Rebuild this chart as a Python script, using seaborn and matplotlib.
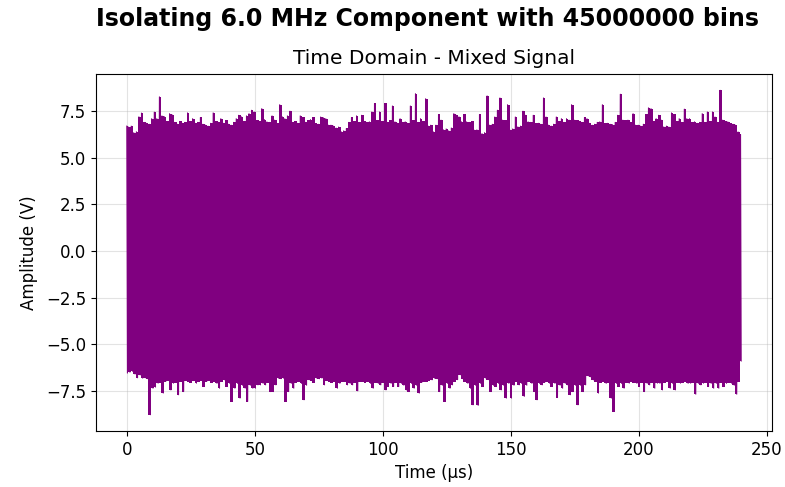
import numpy as np
import pandas as pd
import matplotlib
matplotlib.use("Agg")
import matplotlib.pyplot as plt
import seaborn as sns

# Envelope of the mixed signal at 1 µs steps (0..240 µs)
time_us = list(range(0, 241))
upper_peak = [
    6.70, 6.65, 6.70, 6.35, 6.40, 7.20, 7.40, 6.90, 6.85, 6.80,
    7.10, 7.45, 7.10, 8.27, 7.25, 7.20, 6.95, 7.37, 7.30, 6.90,
    6.80, 6.95, 6.85, 6.90, 7.41, 6.95, 7.10, 6.85, 6.90, 7.16,
    6.80, 6.75, 6.70, 6.85, 7.41, 6.95, 6.90, 7.10, 6.85, 7.00,
    6.80, 6.75, 6.90, 7.10, 7.28, 7.20, 6.95, 7.25, 7.37, 7.55,
    7.46, 7.00, 6.95, 7.64, 7.05, 6.93, 6.90, 7.25, 7.02, 6.84,
    7.85, 7.20, 7.10, 7.25, 7.50, 6.90, 6.95, 6.85, 7.25, 7.16,
    6.90, 7.00, 7.05, 7.16, 6.84, 6.80, 7.19, 7.15, 7.10, 6.75,
    6.75, 6.70, 6.60, 6.65, 6.40, 6.45, 6.57, 6.90, 7.16, 6.95,
    7.25, 6.90, 7.28, 6.95, 6.90, 6.93, 7.46, 7.91, 7.00, 7.46,
    6.95, 7.91, 6.90, 7.00, 7.78, 6.93, 6.85, 7.10, 6.90, 6.93,
    6.85, 7.78, 7.00, 8.44, 6.90, 7.10, 6.95, 8.17, 6.70, 6.75,
    6.39, 6.75, 7.32, 7.02, 6.50, 6.55, 6.45, 6.60, 7.37, 7.28,
    7.20, 6.93, 7.32, 6.93, 6.90, 6.95, 6.48, 6.50, 7.32, 6.30,
    6.35, 8.32, 6.75, 6.80, 7.19, 7.55, 8.21, 7.02, 7.00, 7.85,
    6.48, 6.55, 7.19, 6.66, 6.70, 7.50, 7.28, 6.93, 6.90, 7.28,
    6.84, 6.85, 6.80, 8.21, 7.19, 6.75, 6.70, 6.80, 7.19, 6.95,
    7.10, 6.90, 7.10, 7.02, 7.85, 7.02, 7.00, 6.95, 6.90, 7.16,
    7.10, 6.85, 6.75, 6.80, 6.90, 6.93, 7.85, 6.84, 6.85, 6.80,
    6.78, 6.90, 7.28, 8.41, 7.02, 7.00, 7.02, 6.90, 7.37, 6.75,
    6.75, 6.70, 6.80, 7.32, 7.68, 7.64, 6.95, 7.10, 7.28, 7.02,
    6.66, 6.70, 6.65, 7.41, 7.32, 6.95, 7.10, 6.90, 7.61, 7.10,
    7.10, 6.90, 6.93, 6.85, 6.90, 7.37, 6.90, 7.46, 6.95, 7.46,
    7.19, 6.90, 8.62, 7.02, 6.95, 6.93, 6.84, 6.80, 6.75, 6.39,
    6.25,
]
lower_peak = [
    -6.55, -6.50, -6.45, -6.60, -6.80, -6.65, -6.82, -6.80, -6.85, -8.78,
    -7.36, -7.30, -7.09, -7.05, -7.62, -7.00, -6.95, -7.45, -7.09, -7.05,
    -7.71, -7.00, -7.54, -6.95, -7.00, -7.05, -6.95, -7.09, -7.00, -6.95,
    -7.27, -7.00, -6.95, -7.05, -7.00, -7.10, -7.36, -7.00, -6.91, -7.27,
    -7.10, -8.07, -7.36, -7.10, -7.89, -7.20, -7.36, -8.07, -7.20, -7.36,
    -7.36, -7.18, -7.18, -7.10, -7.18, -7.05, -7.54, -7.54, -7.18, -6.82,
    -6.85, -6.82, -8.07, -7.54, -7.10, -7.36, -7.05, -7.00, -7.10, -7.98,
    -7.20, -6.91, -6.95, -7.05, -6.82, -6.85, -6.82, -7.18, -6.95, -7.00,
    -7.05, -7.00, -7.36, -7.10, -7.00, -7.00, -7.18, -7.10, -7.18, -7.05,
    -7.50, -7.00, -7.00, -7.05, -7.00, -7.10, -7.36, -7.05, -7.10, -7.18,
    -7.05, -7.45, -7.27, -7.10, -7.27, -7.05, -7.27, -7.10, -7.20, -7.45,
    -7.54, -7.10, -7.36, -7.20, -7.62, -7.05, -7.00, -7.00, -6.95, -6.91,
    -6.82, -6.85, -7.54, -7.20, -8.07, -7.10, -7.36, -7.18, -7.00, -6.90,
    -6.64, -6.85, -7.00, -7.10, -7.36, -8.25, -7.20, -8.28, -7.10, -7.27,
    -6.82, -6.90, -7.54, -7.20, -7.27, -7.10, -7.45, -7.20, -7.89, -7.10,
    -7.89, -7.20, -7.00, -7.18, -7.10, -7.80, -7.20, -7.00, -7.10, -7.54,
    -7.98, -7.10, -7.18, -7.05, -7.00, -7.10, -7.27, -7.10, -7.86, -7.20,
    -7.36, -7.10, -7.18, -7.71, -7.54, -7.20, -8.25, -7.20, -7.54, -7.18,
    -6.70, -6.75, -6.91, -7.00, -7.62, -7.05, -7.00, -7.10, -7.05, -7.89,
    -8.61, -7.10, -7.27, -7.10, -7.36, -7.05, -7.09, -7.00, -7.05, -7.10,
    -7.27, -7.05, -7.54, -7.10, -7.18, -7.05, -7.36, -7.09, -7.10, -7.45,
    -7.05, -7.00, -7.36, -7.10, -7.45, -7.05, -7.09, -7.05, -7.00, -7.10,
    -7.09, -7.05, -7.68, -7.10, -7.18, -7.09, -7.05, -7.27, -7.10, -7.36,
    -7.10, -7.36, -7.05, -7.27, -7.10, -7.05, -7.09, -7.20, -7.68, -7.00,
    -5.90,
]

suptitle_text = "Isolating 6.0 MHz Component with 45000000 bins"
title_text = "Time Domain - Mixed Signal"
xlabel_text = "Time (μs)"
ylabel_text = "Amplitude (V)"
x_ticks = [0, 50, 100, 150, 200, 250]
y_ticks = [-7.5, -5.0, -2.5, 0.0, 2.5, 5.0, 7.5]

color = "#800080"

# Signal trace: alternate between the read upper and lower peaks
t_arr = np.array(time_us, dtype=float)
up = np.array(upper_peak)
lo = np.array(lower_peak)
trace_t = np.empty(2 * len(t_arr))
trace_v = np.empty(2 * len(t_arr))
trace_t[0::2] = t_arr - 0.25
trace_t[1::2] = t_arr + 0.25
trace_v[0::2] = up
trace_v[1::2] = lo
trace_t[0] = 0.0
trace_t[-1] = 240.0
df = pd.DataFrame({"t": trace_t, "v": trace_v})

fig = plt.figure(figsize=(7.85, 4.87), dpi=100)
ax = fig.add_axes([0.1223, 0.115, 0.8611, 0.733])

ax.fill_between(t_arr, lo, up, step="mid", color=color, lw=0)
sns.lineplot(data=df, x="t", y="v", ax=ax, color=color, linewidth=0.7,
             estimator=None, sort=False)

ax.set_xlim(-12, 252)
ax.set_ylim(-9.65, 9.49)
ax.set_xticks(x_ticks)
ax.set_yticks(y_ticks)
ax.tick_params(labelsize=12)
ax.grid(True, color="#b0b0b0", alpha=0.35, linewidth=0.8)
ax.set_axisbelow(True)
ax.set_xlabel(xlabel_text, fontsize=12)
ax.set_ylabel(ylabel_text, fontsize=12, labelpad=6)
ax.set_title(title_text, fontsize=14.5, pad=7)
fig.suptitle(suptitle_text, fontsize=17, fontweight="bold", x=0.545, y=0.985)

fig.savefig("out.png", dpi=100)
